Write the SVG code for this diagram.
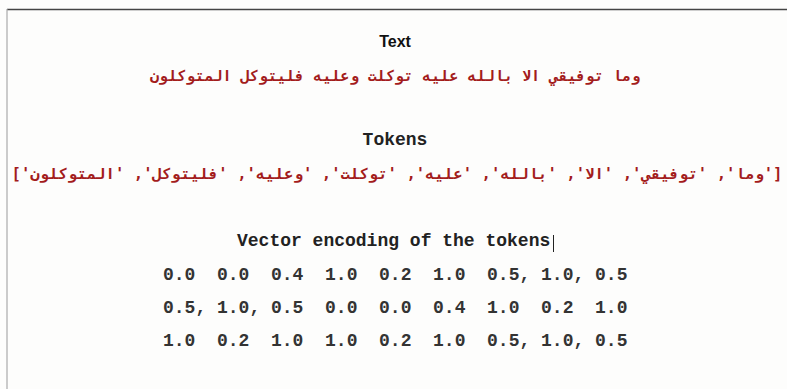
<svg xmlns="http://www.w3.org/2000/svg" width="787" height="389" viewBox="0 0 787 389">
  <style>
    .head { font-family: "Liberation Sans", Arial, sans-serif; font-weight: bold; font-size: 16px; fill: #111; }
    .mono { font-family: "Liberation Mono", "DejaVu Sans Mono", monospace; font-weight: bold; font-size: 18px; fill: #222; }
    .arabic { font-family: "DejaVu Sans Mono", "DejaVu Sans", monospace; font-weight: bold; font-size: 15px; fill: #a31c1c; }
    .nums { font-family: "Liberation Mono", "DejaVu Sans Mono", monospace; font-weight: bold; font-size: 18px; fill: #333; white-space: pre; }
  </style>
  <rect x="0" y="0" width="787" height="389" fill="#fdfdfc"/>
  <!-- panel frame -->
  <line x1="7" y1="9.5" x2="787" y2="9.5" stroke="#444" stroke-width="1.5"/>
  <line x1="7" y1="9" x2="7" y2="389" stroke="#aaa" stroke-width="1.2"/>

  <g id="text-block">
    <text class="head" x="395" y="47" text-anchor="middle">Text</text>
    <text class="arabic" x="395" y="81" text-anchor="middle" direction="rtl" textLength="490" lengthAdjust="spacingAndGlyphs">وما توفيقي الا بالله عليه توكلت وعليه فليتوكل المتوكلون</text>
  </g>

  <g id="tokens-block">
    <text class="mono" x="395" y="145" text-anchor="middle">Tokens</text>
    <text class="arabic" x="397" y="179" text-anchor="middle" direction="rtl" textLength="771" lengthAdjust="spacingAndGlyphs">['وما', 'توفيقي', 'الا', 'بالله', 'عليه', 'توكلت', 'وعليه', 'فليتوكل', 'المتوكلون']</text>
  </g>

  <g id="vector-block">
    <text class="mono" x="237" y="246">Vector encoding of the tokens</text>
    <line x1="553.5" y1="235" x2="553.5" y2="252" stroke="#222" stroke-width="1"/>
    <text class="nums" x="163" y="280" xml:space="preserve">0.0  0.0  0.4  1.0  0.2  1.0  0.5, 1.0, 0.5</text>
    <text class="nums" x="163" y="313" xml:space="preserve">0.5, 1.0, 0.5  0.0  0.0  0.4  1.0  0.2  1.0</text>
    <text class="nums" x="163" y="346" xml:space="preserve">1.0  0.2  1.0  1.0  0.2  1.0  0.5, 1.0, 0.5</text>
  </g>
</svg>
